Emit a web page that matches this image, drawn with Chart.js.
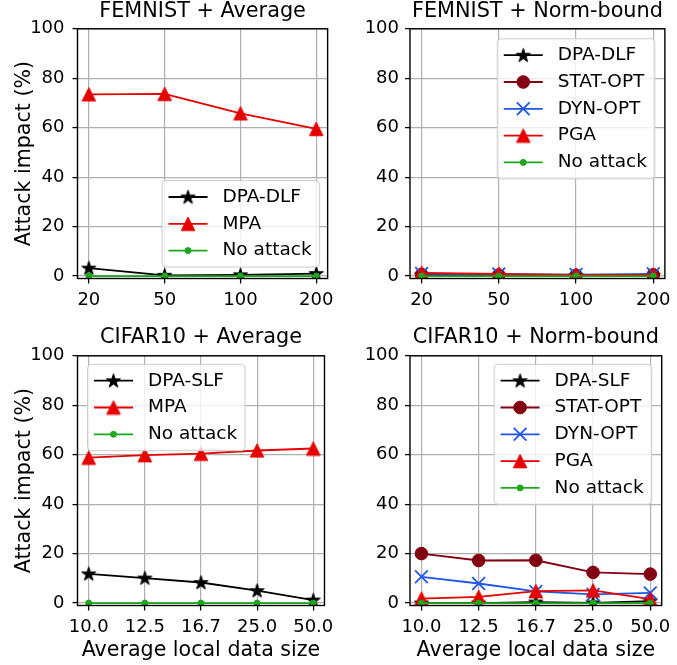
<!DOCTYPE html>
<html>
<head>
<meta charset="utf-8">
<style>
  body { margin: 0; background: #fff; }
  #fig { position: relative; width: 677px; height: 665px; background: #fff; }
  .panel { position: absolute; }
</style>
</head>
<body>
<div id="fig">
  <div class="panel" style="left:0;top:0;width:340px;height:320px"><canvas id="femAvg"></canvas></div>
  <div class="panel" style="left:340px;top:0;width:337px;height:320px"><canvas id="femNorm"></canvas></div>
  <div class="panel" style="left:0;top:320px;width:340px;height:345px"><canvas id="cifAvg"></canvas></div>
  <div class="panel" style="left:340px;top:320px;width:337px;height:345px"><canvas id="cifNorm"></canvas></div>
</div>

<script src="https://cdn.jsdelivr.net/npm/chart.js"></script>
<script>
// x tick labels (average local data size)
const femnistSizes = ['20', '50', '100', '200'];
const cifarSizes = ['10.0', '12.5', '16.7', '25.0', '50.0'];
const impactTicks = [0, 20, 40, 60, 80, 100];

// FEMNIST + Average
const femAvgDPA = [3.2, 0.3, 0.5, 1.0];
const femAvgMPA = [73.5, 73.7, 65.8, 59.5];
const femAvgNone = [0, 0, 0, 0];

// FEMNIST + Norm-bound
const femNormDPA = [0.4, 0.3, 0.2, 0.3];
const femNormSTAT = [0.6, 0.4, 0.3, 0.5];
const femNormDYN = [1.0, 0.8, 0.6, 0.9];
const femNormPGA = [1.3, 0.9, 0.5, 0.5];
const femNormNone = [0, 0, 0, 0];

// CIFAR10 + Average
const cifAvgDPA = [11.8, 10.1, 8.3, 5.0, 1.2];
const cifAvgMPA = [58.8, 59.8, 60.4, 61.7, 62.5];
const cifAvgNone = [0, 0, 0, 0, 0];

// CIFAR10 + Norm-bound
const cifNormDPA = [0.0, 0.0, 0.4, 0.1, 0.8];
const cifNormSTAT = [20.0, 17.2, 17.3, 12.4, 11.7];
const cifNormDYN = [10.6, 7.9, 4.7, 3.5, 4.1];
const cifNormPGA = [1.8, 2.5, 4.8, 5.1, 1.6];
const cifNormNone = [0, 0, 0, 0, 0];

Chart.defaults.font.family = "'DejaVu Sans', sans-serif";
Chart.defaults.color = '#000';

const BLACK = '#000000', MAROON = '#82000f', BLUE = '#1f58e6', RED = '#e60000', GREEN = '#1ca81c';

// filled 5-point star and matplotlib-style triangle as marker images
function starImage(r, color) {
  const c = document.createElement('canvas');
  c.width = c.height = Math.ceil(r * 2 + 2);
  const g = c.getContext('2d');
  const cx = c.width / 2, cy = c.height / 2 + 0.5;
  g.beginPath();
  for (let k = 0; k < 10; k++) {
    const rr = k % 2 ? r * 0.382 : r;
    const ang = -Math.PI / 2 + k * Math.PI / 5;
    g.lineTo(cx + rr * Math.cos(ang), cy + rr * Math.sin(ang));
  }
  g.closePath();
  g.fillStyle = color; g.fill();
  g.strokeStyle = color; g.lineWidth = 1; g.stroke();
  return c;
}
function triImage(s, color) {
  const c = document.createElement('canvas');
  c.width = c.height = Math.ceil(s + 2);
  const g = c.getContext('2d');
  const m = (c.width - s) / 2;
  g.beginPath();
  g.moveTo(c.width / 2, m);
  g.lineTo(m, m + s);
  g.lineTo(m + s, m + s);
  g.closePath();
  g.fillStyle = color; g.fill();
  g.strokeStyle = color; g.lineWidth = 1; g.stroke();
  return c;
}
const starMark = starImage(7.4, BLACK);
const triMark = triImage(13.5, RED);

function series(label, values, color, style, radius, bw) {
  return {
    label: label,
    data: values.map((v, i) => ({ x: i, y: v })),
    borderColor: color,
    backgroundColor: color,
    pointBackgroundColor: color,
    pointBorderColor: color,
    pointStyle: style,
    pointRadius: radius,
    pointBorderWidth: bw,
    borderWidth: 1.8,
    tension: 0
  };
}

// black box around the plot area
const frame = {
  id: 'frame',
  afterDatasetsDraw(chart) {
    const { ctx, chartArea: a } = chart;
    ctx.save();
    ctx.strokeStyle = '#000';
    ctx.lineWidth = 1.4;
    ctx.strokeRect(a.left, a.top, a.right - a.left, a.bottom - a.top);
    ctx.restore();
  }
};

// legend drawn inside the plot area
const insetLegend = {
  id: 'insetLegend',
  afterDraw(chart, args, opts) {
    const { ctx, chartArea: a } = chart;
    const sets = chart.data.datasets;
    const font = '18.5px ' + Chart.defaults.font.family;
    const rowH = 26.8, padY = 3, padL = 6.5, handle = 39, gap = 15, padR = 8;
    ctx.save();
    ctx.font = font;
    const tw = Math.max(...sets.map(d => ctx.measureText(d.label).width));
    const w = padL + handle + gap + tw + padR;
    const h = padY * 2 + rowH * sets.length;
    let x0, y0;
    if (opts.loc === 'upper right') { x0 = a.right - opts.dx - w; y0 = a.top + opts.dy; }
    else if (opts.loc === 'upper left') { x0 = a.left + opts.dx; y0 = a.top + opts.dy; }
    else { x0 = a.right - opts.dx - w; y0 = a.bottom - opts.dy - h; }

    const r = 4;
    ctx.beginPath();
    ctx.moveTo(x0 + r, y0);
    ctx.arcTo(x0 + w, y0, x0 + w, y0 + h, r);
    ctx.arcTo(x0 + w, y0 + h, x0, y0 + h, r);
    ctx.arcTo(x0, y0 + h, x0, y0, r);
    ctx.arcTo(x0, y0, x0 + w, y0, r);
    ctx.closePath();
    ctx.fillStyle = 'rgba(255,255,255,0.8)';
    ctx.fill();
    ctx.strokeStyle = '#cccccc';
    ctx.lineWidth = 1;
    ctx.stroke();

    sets.forEach((d, i) => {
      const y = y0 + padY + rowH * (i + 0.5);
      const hx = x0 + padL;
      ctx.beginPath();
      ctx.moveTo(hx, y);
      ctx.lineTo(hx + handle, y);
      ctx.strokeStyle = d.borderColor;
      ctx.lineWidth = d.borderWidth;
      ctx.stroke();
      ctx.fillStyle = d.pointBackgroundColor;
      ctx.strokeStyle = d.pointBorderColor;
      ctx.lineWidth = d.pointBorderWidth;
      Chart.helpers.drawPoint(ctx, {
        pointStyle: d.pointStyle, radius: d.pointRadius,
        borderWidth: d.pointBorderWidth, rotation: 0
      }, hx + handle / 2, y);
      ctx.fillStyle = '#000';
      ctx.textAlign = 'left';
      ctx.textBaseline = 'middle';
      ctx.fillText(d.label, hx + handle + gap, y);
    });
    ctx.restore();
  }
};

function panel(id, cfg) {
  const n = cfg.labels.length;
  const margin = (n - 1) * 0.05;
  const sets = cfg.datasets;
  sets.forEach((d, i) => { d.order = sets.length - i; });
  return new Chart(document.getElementById(id), {
    type: 'line',
    data: { datasets: sets },
    options: {
      responsive: true,
      maintainAspectRatio: false,
      animation: false,
      events: [],
      layout: { padding: { left: 0, right: cfg.padRight, top: 0, bottom: 0 } },
      plugins: {
        legend: { display: false },
        tooltip: { enabled: false },
        title: {
          display: true,
          text: cfg.title,
          fullSize: false,
          font: { size: 20.8, weight: 'normal', lineHeight: 1.0 },
          color: '#000',
          padding: cfg.titlePad
        },
        insetLegend: cfg.legend
      },
      scales: {
        x: {
          type: 'linear',
          min: -margin,
          max: n - 1 + margin,
          afterBuildTicks: s => { s.ticks = cfg.labels.map((_, i) => ({ value: i })); },
          afterFit: s => { s.height = cfg.xHeight; },
          ticks: {
            callback: (v, i) => cfg.labels[i],
            font: { size: 18 },
            color: '#000',
            padding: cfg.xTickPad,
            maxRotation: 0,
            autoSkip: false
          },
          grid: { color: '#b0b0b0', lineWidth: 1.2, tickColor: '#000', tickLength: 5, tickWidth: 1.3 },
          border: { display: false },
          title: cfg.xTitle
            ? { display: true, text: cfg.xTitle, font: { size: 20.6 }, color: '#000', padding: { top: 0, bottom: 2 } }
            : { display: false }
        },
        y: {
          type: 'linear',
          min: -1,
          max: 100,
          afterBuildTicks: s => { s.ticks = impactTicks.map(v => ({ value: v })); },
          afterFit: s => { s.width = cfg.yWidth; },
          ticks: { font: { size: 18 }, color: '#000', padding: cfg.yTickPad },
          grid: { color: '#b0b0b0', lineWidth: 1.2, tickColor: '#000', tickLength: 5, tickWidth: 1.3 },
          border: { display: false },
          title: cfg.yTitle
            ? { display: true, text: cfg.yTitle, font: { size: 20.6 }, color: '#000', padding: { top: 12, bottom: 0 } }
            : { display: false }
        }
      }
    },
    plugins: [frame, insetLegend]
  });
}

panel('femAvg', {
  title: 'FEMNIST + Average', labels: femnistSizes,
  titlePad: { top: 1, bottom: 7 }, xHeight: 41.5, yWidth: 77.5, padRight: 7,
  xTickPad: 6, yTickPad: 8, yTitle: 'Attack impact (%)',
  legend: { loc: 'lower right', dx: 8, dy: 11.5 },
  datasets: [
    series('DPA-DLF', femAvgDPA, BLACK, starMark, 7, 1),
    series('MPA', femAvgMPA, RED, triMark, 7, 1),
    series('No attack', femAvgNone, GREEN, 'circle', 3, 1)
  ]
});

panel('femNorm', {
  title: 'FEMNIST + Norm-bound', labels: femnistSizes,
  titlePad: { top: 1, bottom: 7 }, xHeight: 41.5, yWidth: 70, padRight: 10,
  xTickPad: 6, yTickPad: 6,
  legend: { loc: 'upper right', dx: 10, dy: 10 },
  datasets: [
    series('DPA-DLF', femNormDPA, BLACK, starMark, 7, 1),
    series('STAT-OPT', femNormSTAT, MAROON, 'circle', 6.3, 1),
    series('DYN-OPT', femNormDYN, BLUE, 'crossRot', 9, 1.8),
    series('PGA', femNormPGA, RED, triMark, 7, 1),
    series('No attack', femNormNone, GREEN, 'circle', 3, 1)
  ]
});

panel('cifAvg', {
  title: 'CIFAR10 + Average', labels: cifarSizes,
  titlePad: { top: 7, bottom: 8 }, xHeight: 59.5, yWidth: 77.5, padRight: 7,
  xTickPad: 6, yTickPad: 8, yTitle: 'Attack impact (%)', xTitle: 'Average local data size',
  legend: { loc: 'upper left', dx: 10, dy: 8.5 },
  datasets: [
    series('DPA-SLF', cifAvgDPA, BLACK, starMark, 7, 1),
    series('MPA', cifAvgMPA, RED, triMark, 7, 1),
    series('No attack', cifAvgNone, GREEN, 'circle', 3, 1)
  ]
});

panel('cifNorm', {
  title: 'CIFAR10 + Norm-bound', labels: cifarSizes,
  titlePad: { top: 7, bottom: 8 }, xHeight: 59.5, yWidth: 70, padRight: 10,
  xTickPad: 6, yTickPad: 6, xTitle: 'Average local data size',
  legend: { loc: 'upper right', dx: 10, dy: 8.5 },
  datasets: [
    series('DPA-SLF', cifNormDPA, BLACK, starMark, 7, 1),
    series('STAT-OPT', cifNormSTAT, MAROON, 'circle', 6.3, 1),
    series('DYN-OPT', cifNormDYN, BLUE, 'crossRot', 9, 1.8),
    series('PGA', cifNormPGA, RED, triMark, 7, 1),
    series('No attack', cifNormNone, GREEN, 'circle', 3, 1)
  ]
});
</script>
</body>
</html>
